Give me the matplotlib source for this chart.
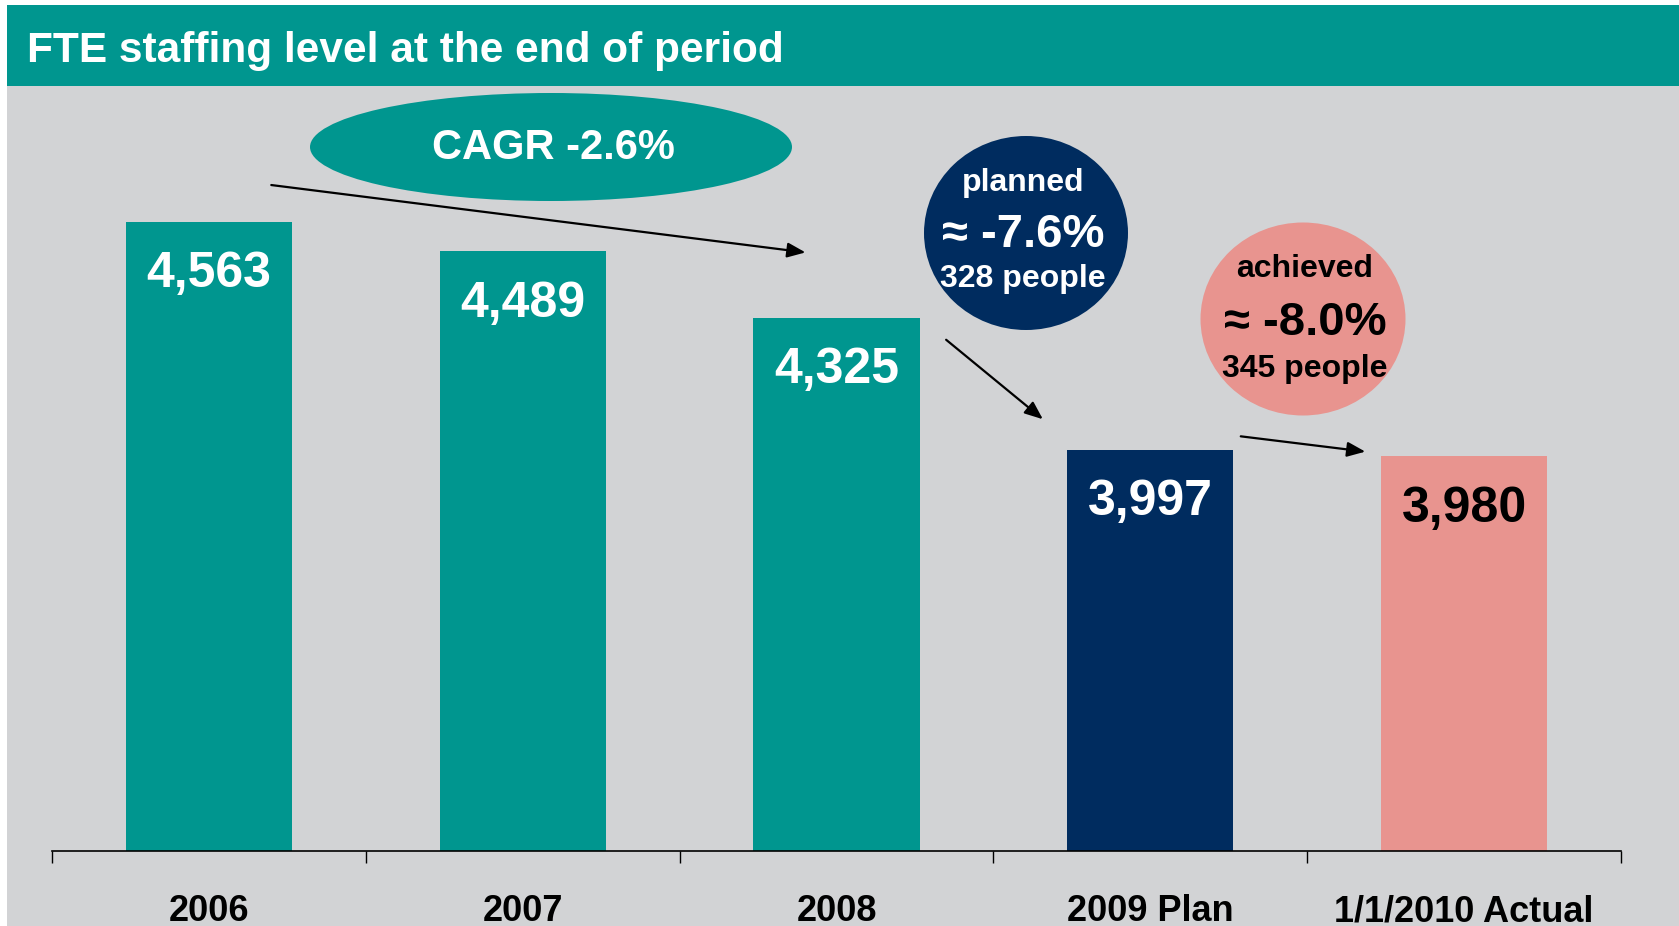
import matplotlib.pyplot as plt
from matplotlib.patches import Ellipse, Rectangle

categories = ['2006', '2007', '2008', '2009 Plan', '1/1/2010 Actual']
fte = [4563, 4489, 4325, 3997, 3980]

cagr_text = 'CAGR -2.6%'
planned_lines = ['planned', '≈ -7.6%', '328 people']
achieved_lines = ['achieved', '≈ -8.0%', '345 people']

TEAL = '#00968F'
NAVY = '#002C5F'
PINK = '#E8948F'
GRAY = '#D2D3D5'

bar_colors = [TEAL, TEAL, TEAL, NAVY, PINK]
label_colors = ['white', 'white', 'white', 'white', 'black']

FONT = ['Liberation Sans', 'DejaVu Sans']
plt.rcParams['font.family'] = FONT
plt.rcParams['font.weight'] = 'bold'

W, H = 1679, 926
fig = plt.figure(figsize=(W / 100, H / 100), dpi=100)
fig.patch.set_facecolor('white')

# background panels (pixel coords -> figure fraction)
fig.patches.append(Rectangle((7 / W, 0), 1, 1 - 86 / H, transform=fig.transFigure,
                             facecolor=GRAY, edgecolor='none', zorder=0))
fig.patches.append(Rectangle((7 / W, 1 - 86 / H), 1, 81 / H, transform=fig.transFigure,
                             facecolor=TEAL, edgecolor='none', zorder=0))
fig.text(27 / W, 1 - 51 / H, 'FTE staffing level at the end of period', color='white',
         fontsize=30.5, fontweight='bold', ha='left', va='center', zorder=5)

ax = fig.add_axes([52 / W, 1 - 851 / H, (1621 - 52) / W, (851 - 86) / H])
ax.set_facecolor('none')
ax.set_zorder(2)

x = range(len(categories))
ax.bar(x, fte, width=0.53, color=bar_colors, zorder=2)
ax.set_xlim(-0.5, len(categories) - 0.5)
ax.set_ylim(3000, 4900)

for i, v in enumerate(fte):
    ax.annotate(f'{v:,}', xy=(i, v), xytext=(0, -38), textcoords='offset points',
                ha='center', va='center', fontsize=36, fontweight='bold',
                color=label_colors[i], zorder=3)

for s in ['top', 'left', 'right']:
    ax.spines[s].set_visible(False)
ax.spines['bottom'].set_color('black')
ax.spines['bottom'].set_linewidth(1.2)
ax.set_yticks([])
ax.set_xticks(list(x))
ax.set_xticklabels(categories, fontsize=26, fontweight='bold')
ax.set_xticks([i - 0.5 for i in range(len(categories) + 1)], minor=True)
ax.tick_params(axis='x', which='major', length=0, pad=31)
ax.tick_params(axis='x', which='minor', length=8.6, width=1, direction='out', color='black')

# arrows
arrow_kw = dict(arrowstyle='-|>,head_length=1.1,head_width=0.45', color='black', lw=1.6)
for start, end in [((0.138, 0.871), (0.482, 0.782)),
                   ((0.5685, 0.6706), (0.6329, 0.5621)),
                   ((0.7559, 0.5425), (0.8388, 0.5216))]:
    ax.annotate('', xy=end, xytext=start, xycoords='axes fraction',
                textcoords='axes fraction', arrowprops=arrow_kw)

# ellipse / circle callouts
tr = fig.dpi_scale_trans
fig.patches.append(Ellipse((5.51, (H - 147) / 100), 4.82, 1.08, transform=tr,
                           facecolor=TEAL, edgecolor='none', zorder=1))
fig.text(553 / W, 1 - 148 / H, cagr_text, color='white', fontsize=30,
         fontweight='bold', ha='center', va='center', zorder=5)

fig.patches.append(Ellipse((10.26, (H - 233) / 100), 2.04, 1.94, transform=tr,
                           facecolor=NAVY, edgecolor='none', zorder=1))
fig.patches.append(Ellipse((13.03, (H - 319) / 100), 2.05, 1.93, transform=tr,
                           facecolor=PINK, edgecolor='none', zorder=1))

for lines, cx, ys, color in [(planned_lines, 1023, [183, 235, 279], 'white'),
                             (achieved_lines, 1305, [269, 323, 369], 'black')]:
    sizes = [23, 34, 23]
    for txt, y, sz in zip(lines, ys, sizes):
        fig.text(cx / W, 1 - y / H, txt, color=color, fontsize=sz,
                 fontweight='bold', ha='center', va='center', zorder=5)

fig.savefig('out.png', dpi=100)
